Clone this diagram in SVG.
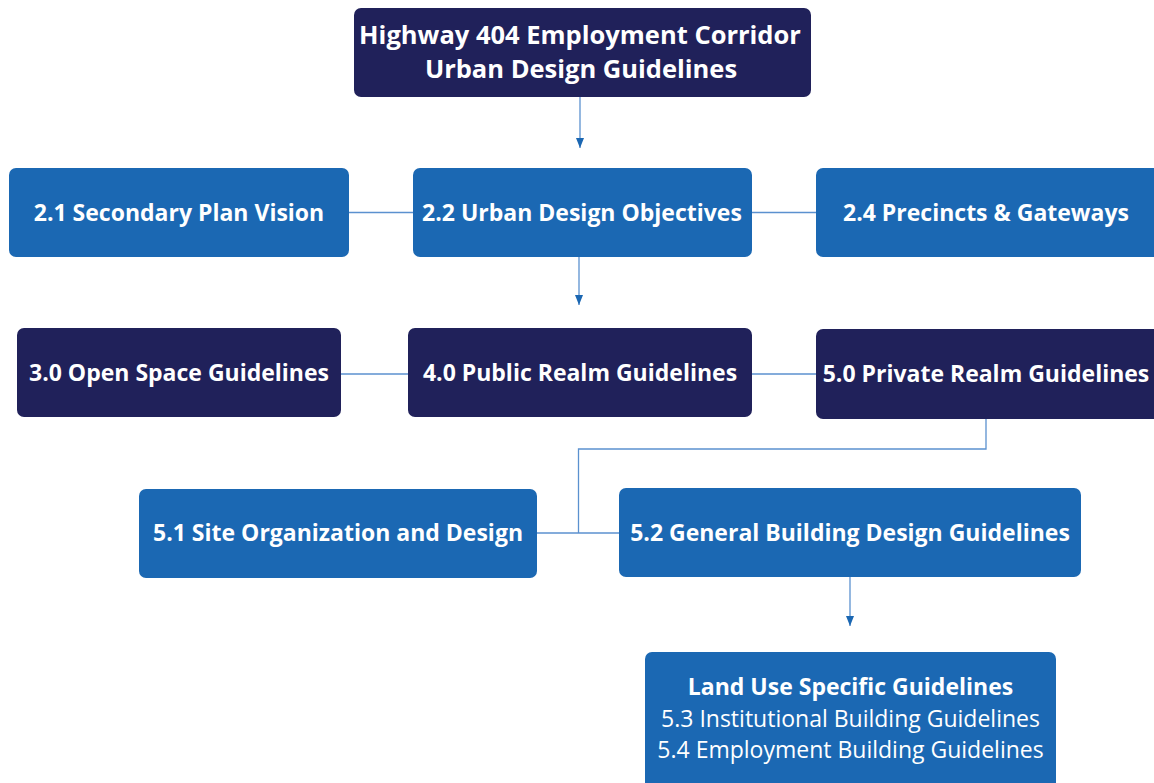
<svg xmlns="http://www.w3.org/2000/svg" width="1154" height="783" viewBox="0 0 1154 783">
  <defs>
    <marker id="arrow" viewBox="0 0 10 8" refX="10" refY="4" markerWidth="10" markerHeight="8" markerUnits="userSpaceOnUse" orient="auto">
      <path d="M0,0 L10,4 L0,8 Z" fill="#1b67b2"/>
    </marker>
    <style>
      .navy { fill: #20215a; }
      .blue { fill: #1b68b3; }
      .lbl { font-family: "Open Sans", "Liberation Sans", sans-serif; font-weight: bold; font-size: 23px; fill: #ffffff; text-anchor: middle; }
      .title { font-size: 25.5px; }
      .sub { font-family: "Open Sans", "Liberation Sans", sans-serif; font-weight: normal; font-size: 23px; fill: #ffffff; text-anchor: middle; }
      .link { stroke: #5b91cf; stroke-width: 1.3; fill: none; }
    </style>
  </defs>
  <rect width="1154" height="783" fill="#ffffff"/>

  <!-- connectors -->
  <g id="connectors">
    <line class="link" x1="580" y1="97" x2="580" y2="148" marker-end="url(#arrow)"/>
    <line class="link" x1="349" y1="212.5" x2="413" y2="212.5"/>
    <line class="link" x1="752" y1="212.5" x2="816" y2="212.5"/>
    <line class="link" x1="579" y1="257" x2="579" y2="305" marker-end="url(#arrow)"/>
    <line class="link" x1="341" y1="374" x2="408" y2="374"/>
    <line class="link" x1="752" y1="374" x2="816" y2="374"/>
    <polyline class="link" points="986,419 986,449 578.5,449 578.5,533"/>
    <line class="link" x1="537" y1="533" x2="619" y2="533"/>
    <line class="link" x1="850" y1="577" x2="850" y2="626" marker-end="url(#arrow)"/>
  </g>

  <g id="node-top">
    <rect class="navy" x="354" y="8" width="457" height="89" rx="7"/>
    <text class="lbl title" x="580" y="44">Highway 404 Employment Corridor</text>
    <text class="lbl title" x="581" y="78">Urban Design Guidelines</text>
  </g>

  <g id="node-2-1">
    <rect class="blue" x="9" y="168" width="340" height="89" rx="7"/>
    <text class="lbl" x="179" y="221">2.1 Secondary Plan Vision</text>
  </g>
  <g id="node-2-2">
    <rect class="blue" x="413" y="168" width="339" height="89" rx="7"/>
    <text class="lbl" x="582" y="221">2.2 Urban Design Objectives</text>
  </g>
  <g id="node-2-4">
    <rect class="blue" x="816" y="168" width="345" height="89" rx="7"/>
    <text class="lbl" x="986" y="221">2.4 Precincts &amp; Gateways</text>
  </g>

  <g id="node-3-0">
    <rect class="navy" x="17" y="328" width="324" height="89" rx="7"/>
    <text class="lbl" x="179" y="381">3.0 Open Space Guidelines</text>
  </g>
  <g id="node-4-0">
    <rect class="navy" x="408" y="328" width="344" height="89" rx="7"/>
    <text class="lbl" x="580" y="381">4.0 Public Realm Guidelines</text>
  </g>
  <g id="node-5-0">
    <rect class="navy" x="816" y="329" width="345" height="90" rx="7"/>
    <text class="lbl" x="986" y="382">5.0 Private Realm Guidelines</text>
  </g>

  <g id="node-5-1">
    <rect class="blue" x="139" y="489" width="398" height="89" rx="7"/>
    <text class="lbl" x="338" y="541">5.1 Site Organization and Design</text>
  </g>
  <g id="node-5-2">
    <rect class="blue" x="619" y="488" width="462" height="89" rx="7"/>
    <text class="lbl" x="850" y="541">5.2 General Building Design Guidelines</text>
  </g>

  <g id="node-land-use">
    <rect class="blue" x="645" y="652" width="411" height="140" rx="7"/>
    <text class="lbl" x="850.5" y="695">Land Use Specific Guidelines</text>
    <text class="sub" x="850.5" y="727">5.3 Institutional Building Guidelines</text>
    <text class="sub" x="850.5" y="758">5.4 Employment Building Guidelines</text>
  </g>
</svg>
